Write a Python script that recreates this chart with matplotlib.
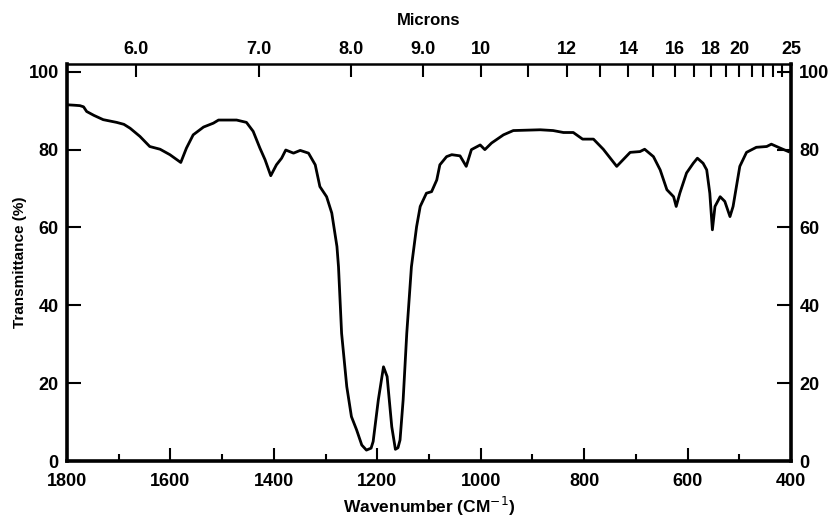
import matplotlib
matplotlib.use("Agg")
import matplotlib.pyplot as plt
import numpy as np

# Spectrum trace (wavenumber cm^-1, transmittance %)
wavenumber = [1797, 1785, 1775, 1768, 1762, 1748, 1730, 1704, 1690, 1678, 1659, 1640, 1620, 1601, 1580,
              1569, 1556, 1536, 1517, 1507, 1472, 1453, 1440, 1427, 1417, 1406, 1395,
              1385, 1377, 1362, 1349, 1333, 1320, 1311, 1298, 1288, 1278, 1275, 1269,
              1259, 1250, 1240, 1230, 1221, 1212, 1208, 1198, 1188, 1181, 1172, 1165, 1160, 1156,
              1150, 1143, 1134, 1124, 1117, 1105, 1095, 1085, 1079, 1066, 1056, 1040,
              1028, 1018, 1001, 992, 979, 956, 937, 885, 860, 840, 821, 803, 782, 763,
              737, 711, 692, 683, 666, 653, 640, 627, 622, 615, 602, 589, 581, 570, 563,
              557, 552, 547, 537, 528, 518, 512, 499, 486, 467, 447, 438, 421, 405]
transmittance = [91.5, 91.4, 91.3, 91.0, 89.8, 88.8, 87.7, 87.0, 86.5, 85.5, 83.4, 80.8, 80.1, 78.7, 76.7,
                 80.4, 83.8, 85.8, 86.8, 87.6, 87.6, 87.0, 84.7, 80.4, 77.4, 73.3, 76.1,
                 77.8, 79.9, 79.1, 79.8, 79.1, 76.1, 70.5, 67.9, 63.7, 55.1, 49.9, 32.8,
                 19.1, 11.4, 8.0, 4.1, 2.8, 3.3, 5.0, 15.7, 24.2, 21.7, 8.8, 3.0, 3.4, 5.4,
                 15.7, 32.8, 49.9, 60.2, 65.4, 68.8, 69.2, 72.2, 76.1, 78.2, 78.7, 78.4,
                 75.7, 80.0, 81.2, 80.0, 81.7, 83.8, 84.9, 85.1, 84.9, 84.4, 84.4, 82.7, 82.7, 80.1,
                 75.7, 79.3, 79.5, 80.1, 78.2, 74.8, 69.7, 67.9, 65.4, 68.8, 74.0, 76.5, 77.8, 76.5, 74.8,
                 68.8, 59.4, 65.4, 67.9, 66.7, 62.8, 65.4, 75.7, 79.3, 80.6, 80.8, 81.4, 80.4, 79.5]

x_major = [1800, 1600, 1400, 1200, 1000, 800, 600, 400]
x_minor = [1700, 1500, 1300, 1100, 900, 700, 500]
y_ticks = [0, 20, 40, 60, 80, 100]
micron_labels = ["6.0", "7.0", "8.0", "9.0", "10", "12", "14", "16", "18", "20", "25"]
micron_values = [6.0, 7.0, 8.0, 9.0, 10, 12, 14, 16, 18, 20, 25]
micron_minor = [11, 13, 15, 17, 19, 21, 22, 23, 24]

plt.rcParams['font.family'] = ['Liberation Sans', 'DejaVu Sans']

fig = plt.figure(figsize=(8.32, 5.22), dpi=100)
ax = fig.add_axes([67/832, 1 - 461/522, (791-67)/832, (461-64)/522])

ax.plot(wavenumber, transmittance, color='black', lw=2.0, solid_joinstyle='round')
ax.set_xlim(1800, 400)
ax.set_ylim(0, 102)

ax.set_xticks(x_major)
ax.set_xticks(x_minor, minor=True)
ax.set_yticks(y_ticks)
ax.tick_params(axis='x', which='major', direction='in', length=9.5, width=1.5,
               labelsize=13, pad=9)
ax.tick_params(axis='x', which='minor', direction='in', length=5, width=1.5)
ax.tick_params(axis='y', which='major', direction='in', length=10, width=1.5,
               labelsize=13, left=True, right=True, labelleft=True, labelright=True, pad=6)
for lab in ax.get_xticklabels() + ax.get_yticklabels():
    lab.set_fontweight('bold')

for side in ['left', 'bottom', 'right']:
    ax.spines[side].set_linewidth(2.6)
ax.spines['top'].set_linewidth(1.8)

ax.set_xlabel("Wavenumber (CM$^{-1}$)", fontsize=12.5, fontweight='bold', labelpad=3)
ax.set_ylabel("Transmittance (%)", fontsize=11, fontweight='bold', labelpad=1)

ax2 = ax.twiny()
ax2.set_xlim(ax.get_xlim())
ax2.set_xticks([1e4 / m for m in micron_values])
ax2.set_xticklabels(micron_labels, fontsize=13, fontweight='bold')
ax2.set_xticks([1e4 / m for m in micron_minor], minor=True)
ax2.tick_params(axis='x', which='both', direction='in', length=9, width=1.5, pad=4)
ax2.set_xlabel("Microns", fontsize=12, fontweight='bold', labelpad=12)
for s in ax2.spines.values():
    s.set_visible(False)

fig.savefig("out.png", dpi=100)
